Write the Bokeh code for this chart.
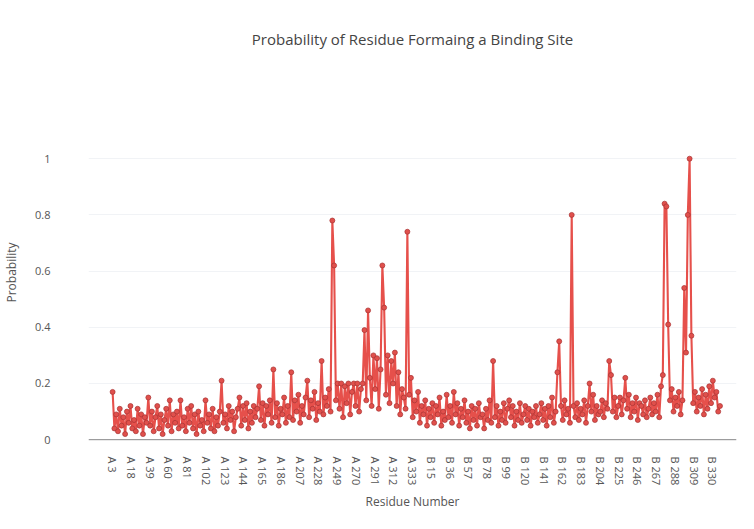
import math
from bokeh.plotting import figure
from bokeh.models import FixedTicker, Range1d, Span, ColumnDataSource, Title
from bokeh.embed import file_html
from bokeh.resources import INLINE

probability = [
    0.17, 0.04, 0.09, 0.03, 0.11, 0.05, 0.08, 0.02, 0.10, 0.06, 0.12, 0.04, 0.07, 0.03, 0.11, 0.05, 0.09, 0.02, 0.08, 0.06,
    0.15, 0.05, 0.10, 0.03, 0.08, 0.12, 0.04, 0.09, 0.02, 0.07, 0.11, 0.05, 0.14, 0.03, 0.09, 0.06, 0.10, 0.04, 0.14, 0.05,
    0.08, 0.03, 0.11, 0.06, 0.12, 0.04, 0.09, 0.02, 0.10, 0.05, 0.07, 0.03, 0.14, 0.06, 0.09, 0.04, 0.11, 0.03, 0.08, 0.05,
    0.10, 0.21, 0.06, 0.09, 0.04, 0.12, 0.07, 0.10, 0.03, 0.08, 0.11, 0.15, 0.05, 0.12, 0.07, 0.13, 0.04, 0.10, 0.06, 0.12,
    0.08, 0.11, 0.19, 0.07, 0.13, 0.05, 0.12, 0.09, 0.14, 0.06, 0.25, 0.08, 0.13, 0.05, 0.11, 0.09, 0.15, 0.06, 0.12, 0.08,
    0.24, 0.07, 0.14, 0.10, 0.16, 0.06, 0.12, 0.09, 0.15, 0.21, 0.08, 0.14, 0.11, 0.17, 0.07, 0.13, 0.10, 0.28, 0.09, 0.15,
    0.12, 0.18, 0.10, 0.78, 0.62, 0.14, 0.20, 0.11, 0.20, 0.08, 0.19, 0.13, 0.20, 0.09, 0.17, 0.20, 0.12, 0.20, 0.10, 0.18,
    0.20, 0.39, 0.14, 0.46, 0.22, 0.12, 0.30, 0.18, 0.29, 0.11, 0.25, 0.62, 0.47, 0.16, 0.30, 0.13, 0.28, 0.20, 0.31, 0.12,
    0.24, 0.09, 0.18, 0.15, 0.11, 0.74, 0.16, 0.22, 0.08, 0.14, 0.10, 0.17, 0.06, 0.12, 0.09, 0.14, 0.05, 0.11, 0.08, 0.13,
    0.06, 0.12, 0.09, 0.15, 0.05, 0.10, 0.07, 0.16, 0.08, 0.12, 0.06, 0.17, 0.09, 0.13, 0.05, 0.11, 0.08, 0.14, 0.06, 0.10,
    0.04, 0.12, 0.07, 0.11, 0.05, 0.13, 0.08, 0.09, 0.04, 0.11, 0.07, 0.14, 0.06, 0.28, 0.08, 0.12, 0.05, 0.10, 0.07, 0.13,
    0.06, 0.11, 0.14, 0.08, 0.12, 0.05, 0.10, 0.07, 0.13, 0.06, 0.09, 0.12, 0.07, 0.11, 0.05, 0.10, 0.08, 0.12, 0.06, 0.09,
    0.13, 0.07, 0.11, 0.05, 0.12, 0.08, 0.15, 0.06, 0.10, 0.24, 0.35, 0.12, 0.07, 0.14, 0.09, 0.11, 0.06, 0.80, 0.12, 0.08,
    0.13, 0.07, 0.11, 0.09, 0.14, 0.06, 0.12, 0.20, 0.10, 0.16, 0.07, 0.12, 0.09, 0.10, 0.14, 0.08, 0.13, 0.11, 0.28, 0.23,
    0.10, 0.15, 0.08, 0.12, 0.15, 0.09, 0.14, 0.22, 0.11, 0.16, 0.08, 0.13, 0.10, 0.15, 0.07, 0.13, 0.12, 0.09, 0.14, 0.08,
    0.11, 0.15, 0.09, 0.13, 0.10, 0.16, 0.08, 0.19, 0.23, 0.84, 0.83, 0.41, 0.14, 0.18, 0.10, 0.15, 0.12, 0.17, 0.09, 0.14,
    0.54, 0.31, 0.80, 1.00, 0.37, 0.13, 0.17, 0.10, 0.15, 0.12, 0.18, 0.09, 0.16, 0.11, 0.19, 0.13, 0.21, 0.15, 0.17, 0.10, 0.12,
]
residue_index = [2 * i for i in range(len(probability))]

tick_labels = [
    "A 3", "A 18", "A 39", "A 60", "A 81", "A 102", "A 123", "A 144", "A 165", "A 186",
    "A 207", "A 228", "A 249", "A 270", "A 291", "A 312", "A 333",
    "B 15", "B 36", "B 57", "B 78", "B 99", "B 120", "B 141", "B 162", "B 183",
    "B 204", "B 225", "B 246", "B 267", "B 288", "B 309", "B 330",
]
tick_step = 21
tick_positions = [i * tick_step for i in range(len(tick_labels))]

FONT = "Open Sans"
GREY = "#555555"

src = ColumnDataSource(dict(x=residue_index, y=probability))

p = figure(width=738, height=513, output_backend="svg", toolbar_location=None,
           x_range=Range1d(-27, 698.5), y_range=Range1d(-0.01, 1.2),
           min_border_left=77, min_border_right=2, min_border_top=20, min_border_bottom=10,
           title="Probability of Residue Formaing a Binding Site")
p.outline_line_color = None
p.background_fill_color = "white"

p.title.align = "center"
p.title.text_font = FONT
p.title.text_font_size = "15px"
p.title.text_font_style = "normal"
p.title.text_color = "#444444"
p.title.standoff = 53

# empty spacer between title and plotting area
p.add_layout(Title(text=" ", text_font_size="15px", standoff=8), "above")

p.xgrid.grid_line_color = None
p.ygrid.grid_line_color = "#f1f3f6"

p.xaxis.ticker = FixedTicker(ticks=tick_positions)
p.xaxis.major_label_overrides = {pos: lab for pos, lab in zip(tick_positions, tick_labels)}
p.xaxis.major_label_orientation = -math.pi / 2
p.yaxis.ticker = FixedTicker(ticks=[0, 0.2, 0.4, 0.6, 0.8, 1.0])
p.yaxis.major_label_overrides = {0: "0", 1.0: "1"}

for ax in (p.xaxis[0], p.yaxis[0]):
    ax.axis_line_color = None
    ax.major_tick_line_color = None
    ax.minor_tick_line_color = None
    ax.major_label_text_font = FONT
    ax.major_label_text_font_size = "11px"
    ax.major_label_text_color = GREY
    ax.axis_label_text_font = FONT
    ax.axis_label_text_font_size = "12px"
    ax.axis_label_text_font_style = "normal"
    ax.axis_label_text_color = GREY

p.xaxis.axis_label = "Residue Number"
p.yaxis.axis_label = "Probability"
p.xaxis.major_label_standoff = 8
p.yaxis.major_label_standoff = 32
p.yaxis.axis_label_standoff = 12

p.add_layout(Span(location=0, dimension="width", line_color="#888888", line_width=1))

p.line("x", "y", source=src, line_color="#e6504b", line_width=2.1)
p.scatter("x", "y", source=src, size=5, fill_color="#e0504c", line_color="#a83232", line_width=0.7)

open("out.html", "w").write(file_html(p, INLINE))
